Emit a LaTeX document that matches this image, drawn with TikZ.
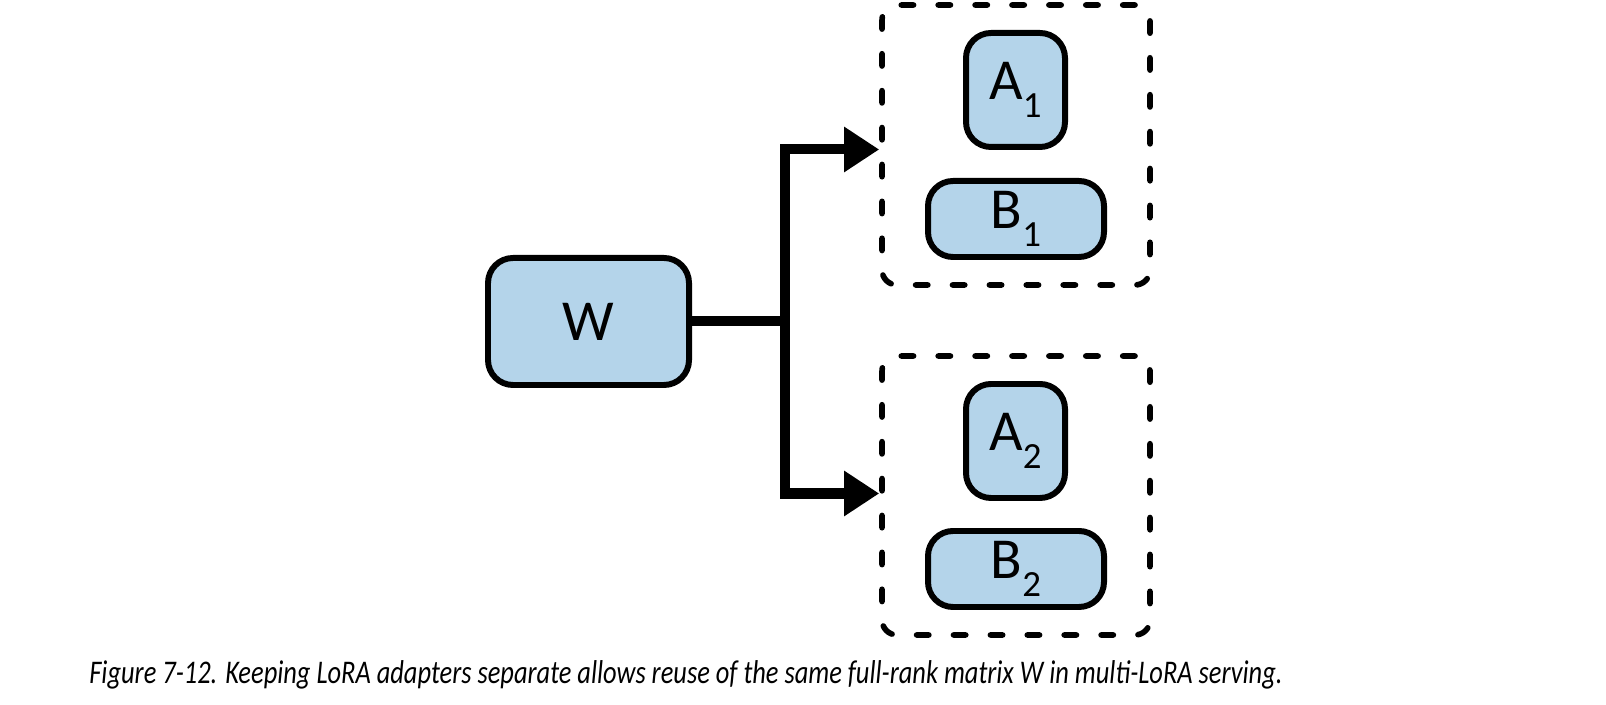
\documentclass[tikz,border=0pt]{standalone}
\usepackage{fontspec}
\setmainfont{Carlito}
\usetikzlibrary{arrows.meta, fit, positioning}
\definecolor{boxblue}{RGB}{180,212,234}
\newcommand{\lsub}[1]{\raisebox{-0.18cm}{\fontsize{10.5}{11}\selectfont #1}}

\begin{document}
\begin{tikzpicture}[
  mat/.style={draw, line width=1.7pt, fill=boxblue, rounded corners=0.25cm,
    inner sep=0pt, font=\fontsize{16.5}{18}\selectfont},
  adapter/.style={draw, line width=1.6pt, line cap=round, dash pattern=on 3.5pt off 7pt,
    rounded corners=0.15cm, inner xsep=0.43cm, inner ysep=0.25cm},
  conn/.style={line width=2.85pt}
]
  \useasboundingbox (0,0) rectangle (16.06,7.05);

  % Full-rank matrix
  \node[mat, minimum width=2.01cm, minimum height=1.27cm] (W) at (5.885, 3.835) {W};

  % Adapters
  \node[mat, minimum width=0.99cm, minimum height=1.14cm] (A_1) at (10.155, 6.15) {A\lsub{1}};
  \node[mat, minimum width=1.76cm, minimum height=0.76cm] (B_1) at (10.16, 4.86) {B\lsub{1}};
  \node[mat, minimum width=0.99cm, minimum height=1.14cm] (A_2) at (10.155, 2.64) {A\lsub{2}};
  \node[mat, minimum width=1.76cm, minimum height=0.76cm] (B_2) at (10.16, 1.36) {B\lsub{2}};

  \node[adapter, fit=(A_1) (B_1)] (f1) {};
  \node[adapter, fit=(A_2) (B_2)] (f2) {};

  \coordinate (jn) at (7.85, 3.835);

  \draw[conn] (W.east) -- (jn);
  \draw[conn, -{Triangle[length=0.35cm, width=0.43cm]}] (jn) |- ([yshift=-0.045cm]f1.west);
  \draw[conn, -{Triangle[length=0.35cm, width=0.43cm]}] (jn) |- ([yshift=0.02cm]f2.west);

  \node[anchor=base, font=\fontsize{9.4}{11}\selectfont\itshape] (cap) at (6.86, 0.21)
    {\scalebox{0.8}[1]{Figure 7-12. Keeping LoRA adapters separate allows reuse of the same full-rank matrix W in multi-LoRA serving.}};
\end{tikzpicture}
\end{document}
